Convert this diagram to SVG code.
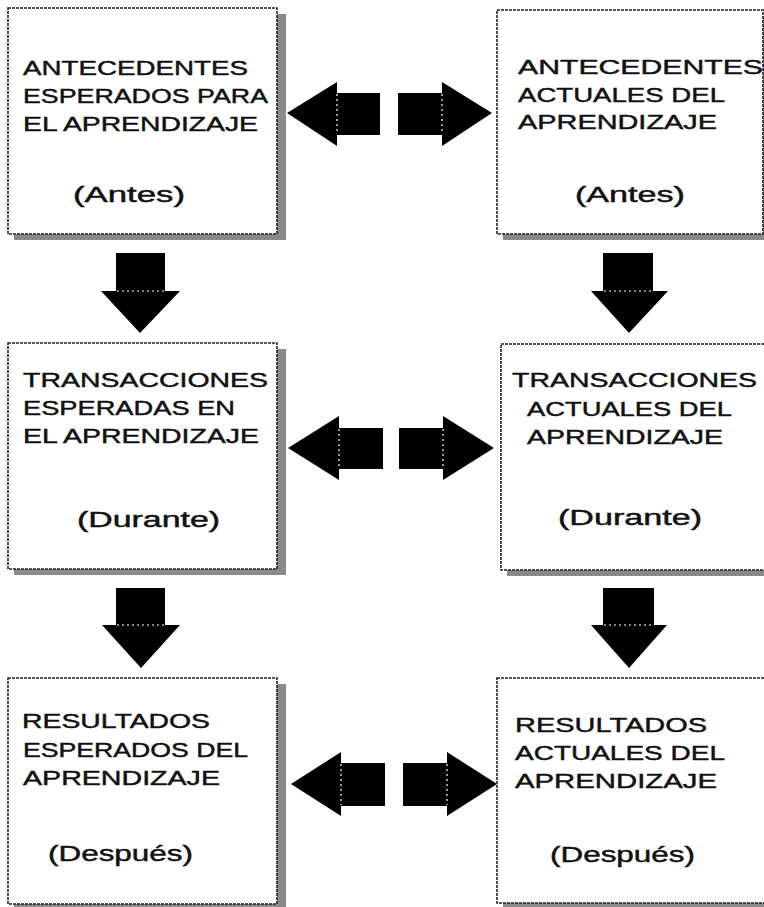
<svg xmlns="http://www.w3.org/2000/svg" width="764" height="907" viewBox="0 0 764 907">
<style>
.shadow{fill:#8a8a8a}
.box{fill:#ffffff;stroke:#222;stroke-width:1.6;stroke-dasharray:3 1}
.t{font-family:"Liberation Sans","DejaVu Sans",sans-serif;font-size:21px;fill:#111;stroke:#111;stroke-width:0.45}
.p{font-family:"Liberation Sans","DejaVu Sans",sans-serif;font-size:22px;fill:#111;stroke:#111;stroke-width:0.45}
.arr{fill:#000}
.seam{stroke:#fff;stroke-width:1.2;stroke-dasharray:2 3;fill:none}
</style>
<rect width="764" height="907" fill="#ffffff"/>

<g id="n1">
<rect class="shadow" x="14" y="14" width="272" height="226"/>
<rect class="box" x="8" y="8" width="269" height="226"/>
<text class="t" x="23" y="75" textLength="225" lengthAdjust="spacingAndGlyphs">ANTECEDENTES</text>
<text class="t" x="23" y="103" textLength="245" lengthAdjust="spacingAndGlyphs">ESPERADOS PARA</text>
<text class="t" x="23" y="131" textLength="235" lengthAdjust="spacingAndGlyphs">EL APRENDIZAJE</text>
<text class="p" x="73" y="202" textLength="112" lengthAdjust="spacingAndGlyphs">(Antes)</text>
</g>

<g id="n2">
<rect class="shadow" x="503" y="16" width="270" height="224"/>
<rect class="box" x="497" y="10" width="266" height="224"/>
<text class="t" x="518" y="74" textLength="245" lengthAdjust="spacingAndGlyphs">ANTECEDENTES</text>
<text class="t" x="518" y="102" textLength="207" lengthAdjust="spacingAndGlyphs">ACTUALES DEL</text>
<text class="t" x="518" y="129" textLength="199" lengthAdjust="spacingAndGlyphs">APRENDIZAJE</text>
<text class="p" x="575" y="202" textLength="110" lengthAdjust="spacingAndGlyphs">(Antes)</text>
</g>

<g id="n3">
<rect class="shadow" x="14" y="349" width="272" height="226"/>
<rect class="box" x="8" y="343" width="269" height="226"/>
<text class="t" x="23" y="387" textLength="245" lengthAdjust="spacingAndGlyphs">TRANSACCIONES</text>
<text class="t" x="23" y="415" textLength="212" lengthAdjust="spacingAndGlyphs">ESPERADAS EN</text>
<text class="t" x="23" y="443" textLength="236" lengthAdjust="spacingAndGlyphs">EL APRENDIZAJE</text>
<text class="p" x="77" y="527" textLength="143" lengthAdjust="spacingAndGlyphs">(Durante)</text>
</g>

<g id="n4">
<rect class="shadow" x="507" y="350" width="270" height="226"/>
<rect class="box" x="501" y="344" width="264" height="226"/>
<text class="t" x="512" y="387" textLength="245" lengthAdjust="spacingAndGlyphs">TRANSACCIONES</text>
<text class="t" x="527" y="416" textLength="205" lengthAdjust="spacingAndGlyphs">ACTUALES DEL</text>
<text class="t" x="527" y="444" textLength="196" lengthAdjust="spacingAndGlyphs">APRENDIZAJE</text>
<text class="p" x="558" y="525" textLength="144" lengthAdjust="spacingAndGlyphs">(Durante)</text>
</g>

<g id="n5">
<rect class="shadow" x="14" y="684" width="272" height="226"/>
<rect class="box" x="8" y="678" width="269" height="226"/>
<text class="t" x="22" y="728" textLength="188" lengthAdjust="spacingAndGlyphs">RESULTADOS</text>
<text class="t" x="23" y="757" textLength="225" lengthAdjust="spacingAndGlyphs">ESPERADOS DEL</text>
<text class="t" x="23" y="785" textLength="197" lengthAdjust="spacingAndGlyphs">APRENDIZAJE</text>
<text class="p" x="48" y="861" textLength="145" lengthAdjust="spacingAndGlyphs">(Después)</text>
</g>

<g id="n6">
<rect class="shadow" x="503" y="684" width="270" height="226"/>
<rect class="box" x="497" y="678" width="268" height="225"/>
<text class="t" x="515" y="732" textLength="192" lengthAdjust="spacingAndGlyphs">RESULTADOS</text>
<text class="t" x="515" y="760" textLength="210" lengthAdjust="spacingAndGlyphs">ACTUALES DEL</text>
<text class="t" x="515" y="788" textLength="202" lengthAdjust="spacingAndGlyphs">APRENDIZAJE</text>
<text class="p" x="550" y="862" textLength="145" lengthAdjust="spacingAndGlyphs">(Después)</text>
</g>

<g id="connectors">
<polygon class="arr" points="287,113 337,82 337,93 380,93 380,135 337,135 337,146"/>
<line class="seam" x1="337" y1="94" x2="337" y2="134"/>
<polygon class="arr" points="492,113 442,82 442,93 398,93 398,135 442,135 442,146"/>
<line class="seam" x1="442" y1="94" x2="442" y2="134"/>
<polygon class="arr" points="288,448 339,416 339,428 383,428 383,469 339,469 339,480"/>
<line class="seam" x1="339" y1="429" x2="339" y2="468"/>
<polygon class="arr" points="494,448 443,416 443,428 399,428 399,469 443,469 443,480"/>
<line class="seam" x1="443" y1="429" x2="443" y2="468"/>
<polygon class="arr" points="291,784 341,752 341,763 385,763 385,806 341,806 341,816"/>
<line class="seam" x1="341" y1="764" x2="341" y2="805"/>
<polygon class="arr" points="497,784 447,752 447,763 403,763 403,806 447,806 447,816"/>
<line class="seam" x1="447" y1="764" x2="447" y2="805"/>
<polygon class="arr" points="116,253 165,253 165,291 180,291 140,333 101,291 116,291"/>
<line class="seam" x1="117" y1="291" x2="164" y2="291"/>
<polygon class="arr" points="116,588 165,588 165,625 180,625 141,668 102,625 116,625"/>
<line class="seam" x1="117" y1="625" x2="164" y2="625"/>
<polygon class="arr" points="603,253 653,253 653,291 668,291 629,333 591,291 603,291"/>
<line class="seam" x1="604" y1="291" x2="652" y2="291"/>
<polygon class="arr" points="603,588 654,588 654,625 667,625 629,668 591,625 603,625"/>
<line class="seam" x1="604" y1="625" x2="653" y2="625"/>
</g>
</svg>
